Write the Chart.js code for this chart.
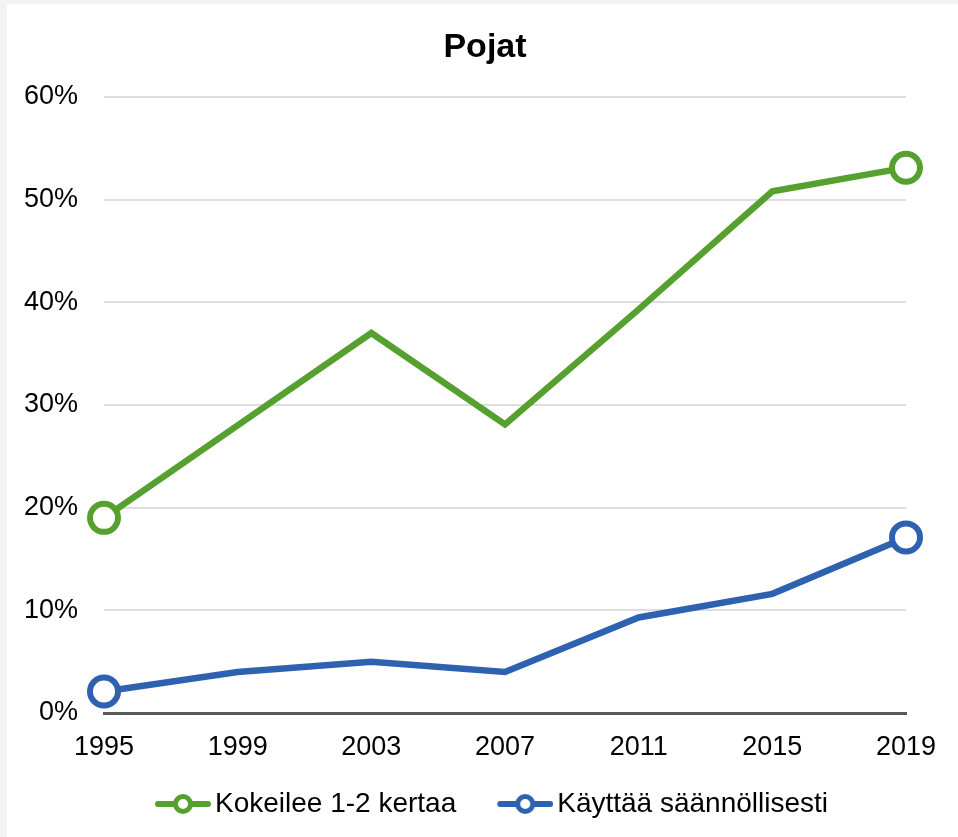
<!DOCTYPE html>
<html>
<head>
<meta charset="utf-8">
<script src="https://cdn.jsdelivr.net/npm/chart.js@4.4.1/dist/chart.umd.min.js"></script>
<style>
  html, body { margin: 0; padding: 0; background: #f3f3f3; }
  #wrap { position: absolute; left: 7px; top: 4px; width: 951px; height: 833px; background: #fff; }
</style>
</head>
<body>
<div id="wrap"><canvas id="chart" width="951" height="833"></canvas></div>
<script>
// Pojat – share of boys, by survey year
const years = ['1995', '1999', '2003', '2007', '2011', '2015', '2019'];
const kokeilee = [19.0, 28.0, 37.0, 28.1, 39.3, 50.8, 53.1];
const kayttaa = [2.1, 4.0, 5.0, 4.0, 9.3, 11.6, 17.1];
const seriesNames = ['Kokeilee 1-2 kertaa', 'Käyttää säännöllisesti'];
const yTicks = [0, 10, 20, 30, 40, 50, 60];

const GREEN = '#55a02e';
const BLUE = '#2e62b0';
const FONT = "'Liberation Sans', Arial, sans-serif";

// legend swatch: thick line with an open circle, drawn at the right part of the image
// (left part left transparent so it works as spacing between legend items)
const BOX_W = 59;
function swatch(color) {
  const c = document.createElement('canvas');
  c.width = BOX_W + 20; c.height = 26;
  const g = c.getContext('2d');
  g.strokeStyle = color;
  g.lineWidth = 6;
  g.lineCap = 'round';
  g.beginPath(); g.moveTo(26, 13); g.lineTo(76, 13); g.stroke();
  g.fillStyle = '#fff';
  g.lineWidth = 5;
  g.beginPath(); g.arc(51, 13, 7.5, 0, Math.PI * 2); g.fill(); g.stroke();
  return c;
}

// markers only on first and last point
const endRadius = ctx => (ctx.dataIndex === 0 || ctx.dataIndex === years.length - 1) ? 14 : 0;

const ds = (label, data, color) => ({
  label, data,
  borderColor: color,
  backgroundColor: '#fff',
  borderWidth: 6.5,
  tension: 0,
  pointRadius: endRadius,
  pointHoverRadius: endRadius,
  pointBorderWidth: 6,
  pointBackgroundColor: '#fff',
  pointBorderColor: color
});

new Chart(document.getElementById('chart'), {
  type: 'line',
  data: {
    labels: years,
    datasets: [ds(seriesNames[0], kokeilee, GREEN), ds(seriesNames[1], kayttaa, BLUE)]
  },
  options: {
    responsive: false,
    animation: false,
    layout: { padding: { left: 5, right: 0, top: 0, bottom: 9 } },
    plugins: {
      title: {
        display: true, text: 'Pojat', color: '#000',
        font: { family: FONT, size: 34, weight: 'bold' },
        padding: { top: 23, bottom: 29 }
      },
      legend: {
        position: 'bottom',
        labels: {
          color: '#000',
          font: { family: FONT, size: 28 },
          usePointStyle: true,
          pointStyleWidth: BOX_W,
          padding: 28,
          generateLabels: chart => chart.data.datasets.map((d, i) => ({
            text: d.label,
            fontColor: '#000',
            pointStyle: swatch(d.borderColor),
            datasetIndex: i,
            hidden: false,
            lineWidth: 0
          }))
        }
      },
      tooltip: { enabled: false }
    },
    scales: {
      x: {
        offset: false,
        grid: { display: false, drawTicks: false },
        border: { display: true, color: '#595959', width: 3 },
        ticks: { color: '#000', font: { family: FONT, size: 27 }, padding: 18, maxRotation: 0 },
        afterFit: s => { s.height = 49; }
      },
      y: {
        min: 0, max: 60,
        afterBuildTicks: s => { s.ticks = yTicks.map(v => ({ value: v })); },
        grid: { color: '#dcdee2', lineWidth: 2, drawTicks: false },
        border: { display: false },
        ticks: { color: '#000', font: { family: FONT, size: 27 }, padding: 26, callback: v => v + '%' },
        afterFit: s => { s.width = 92; }
      },
      // empty right-side gutter
      gutter: {
        type: 'linear', position: 'right', display: true,
        grid: { display: false }, border: { display: false }, ticks: { display: false },
        afterFit: s => { s.width = 52; }
      }
    }
  }
});
</script>
</body>
</html>
